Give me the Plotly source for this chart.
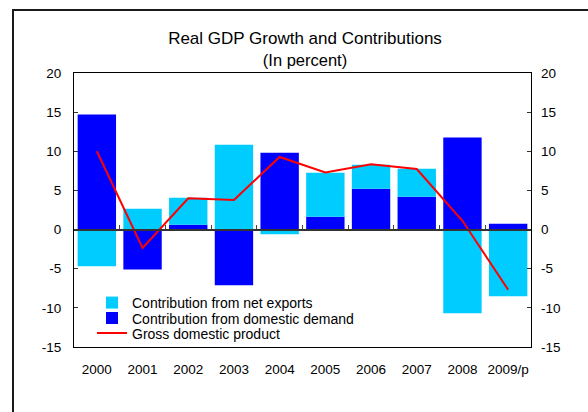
import plotly.graph_objects as go

# ---- data ----
years = ["2000", "2001", "2002", "2003", "2004", "2005", "2006", "2007", "2008", "2009/p"]
domestic_demand = [14.7, -5.1, 0.63, -7.1, 9.82, 1.65, 5.22, 4.2, 11.76, 0.75]
net_exports = [-4.7, 2.67, 3.44, 10.85, -0.6, 5.62, 3.07, 3.58, -10.7, -8.53]
gdp = [10.0, -2.35, 4.0, 3.78, 9.27, 7.3, 8.33, 7.74, 1.12, -7.68]
y_ticks = [-15, -10, -5, 0, 5, 10, 15, 20]
y_tick_labels = ["-15", "-10", "-5", "0", "5", "10", "15", "20"]

# ---- geometry / style ----
W, H = 588, 412
L, R, T, B = 74, 57, 73, 65
pw, ph = W - L - R, H - T - B
ymin, ymax = min(y_ticks), max(y_ticks)
FONT = "Liberation Sans, Arial, sans-serif"
LIGHT = "#00CCFF"
DARK = "#0000FF"
RED = "#FF0000"


def px_x(p):
    return (p - L) / pw


def px_y(p):
    return (H - B - p) / ph


fig = go.Figure()
fig.add_trace(go.Bar(x=years, y=domestic_demand, name="Contribution from domestic demand",
                     marker=dict(color=DARK, line=dict(width=0)), legend="legend2"))
fig.add_trace(go.Bar(x=years, y=net_exports, name="Contribution from net exports",
                     marker=dict(color=LIGHT, line=dict(width=0)), legend="legend"))
fig.add_trace(go.Scatter(x=years, y=gdp, name="Gross domestic product", mode="lines",
                         line=dict(color=RED, width=2), legend="legend3"))
# helper trace for the zero-line axis with boundary ticks and the right axis
fig.add_trace(go.Scatter(x=list(range(len(years))), y=gdp, xaxis="x2", yaxis="y2",
                         mode="lines", line=dict(width=0), opacity=0,
                         showlegend=False, hoverinfo="skip"))

legend_common = dict(font=dict(family=FONT, size=14, color="black"), bgcolor="rgba(0,0,0,0)",
                     borderwidth=0, xanchor="left", yanchor="middle", x=px_x(92))

fig.update_layout(
    width=W, height=H,
    margin=dict(l=L, r=R, t=T, b=B, pad=0, autoexpand=False),
    paper_bgcolor="white", plot_bgcolor="white",
    barmode="relative", bargap=0.16,
    font=dict(family=FONT, size=13.5, color="black"),
    title=dict(text="Real GDP Growth and Contributions<br><span style='font-size:16.5px'>(In percent)</span>",
               x=305 / W, xanchor="center",
               y=1 - 43.5 / H, yanchor="middle", yref="container",
               font=dict(family=FONT, size=17, color="black")),
    legend=dict(**legend_common, y=px_y(303)),
    legend2=dict(**legend_common, y=px_y(318.5)),
    legend3=dict(**legend_common, y=px_y(333.5)),
    xaxis=dict(range=[-0.5, len(years) - 0.5], showgrid=False, zeroline=False,
               showline=True, linecolor="black", linewidth=1, mirror=True,
               ticks="", ticklabelstandoff=10, tickfont=dict(size=13.5)),
    yaxis=dict(range=[ymin, ymax], tickvals=y_ticks, ticktext=y_tick_labels,
               showgrid=False, zeroline=False,
               showline=True, linecolor="black", linewidth=1, mirror=True,
               ticks="inside", ticklen=4, tickcolor="#333", ticklabelstandoff=9),
    xaxis2=dict(overlaying="x", anchor="free", side="bottom",
                position=(0 - ymin) / (ymax - ymin),
                range=[-0.5, len(years) - 0.5],
                tickvals=[i + 0.5 for i in range(len(years) - 1)],
                ticks="inside", ticklen=4, tickcolor="#444", tickwidth=1,
                showticklabels=False, showgrid=False, zeroline=False,
                showline=True, linecolor="#333", linewidth=2, layer="above traces"),
    yaxis2=dict(overlaying="y", anchor="x", side="right", range=[ymin, ymax],
                tickvals=y_ticks, ticktext=y_tick_labels,
                ticks="inside", ticklen=4, tickcolor="#333",
                showgrid=False, zeroline=False, showline=False, ticklabelstandoff=9),
    shapes=[dict(type="rect", xref="paper", yref="paper",
                 x0=px_x(13), x1=px_x(W + 40), y0=px_y(H + 40), y1=px_y(10),
                 line=dict(color="#1a1a1a", width=2), fillcolor="rgba(0,0,0,0)")],
)

fig.write_html("out.html", config={"displayModeBar": False},
               post_script="document.body.style.margin='0px';")
